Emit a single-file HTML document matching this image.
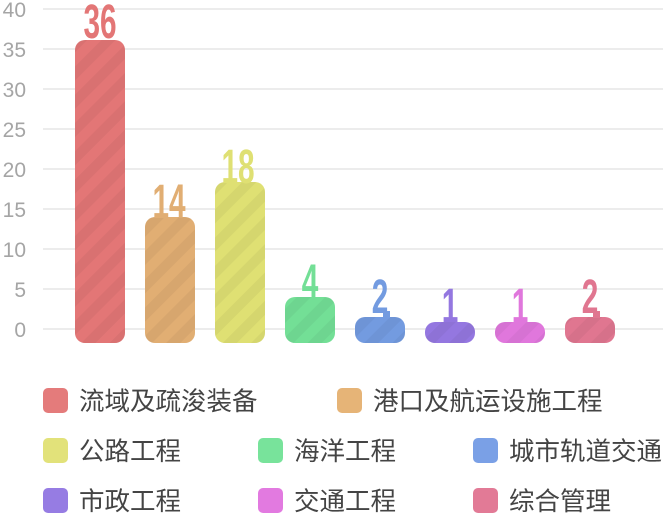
<!DOCTYPE html>
<html><head><meta charset="utf-8"><style>
html,body{margin:0;padding:0;background:#fff;}
body{width:663px;height:514px;overflow:hidden;}
svg{display:block;}
</style></head><body>
<svg width="663" height="514" viewBox="0 0 663 514" xmlns="http://www.w3.org/2000/svg">
<defs>
<pattern id="st" patternUnits="userSpaceOnUse" width="20" height="20" patternTransform="rotate(45)">
<rect x="0" y="0" width="10" height="20" fill="#000" fill-opacity="0.045"/>
</pattern>
</defs>
<g stroke="#ececec" stroke-width="2">
<line x1="43" y1="9" x2="663" y2="9"/>
<line x1="43" y1="49" x2="663" y2="49"/>
<line x1="43" y1="89" x2="663" y2="89"/>
<line x1="43" y1="129" x2="663" y2="129"/>
<line x1="43" y1="169" x2="663" y2="169"/>
<line x1="43" y1="209" x2="663" y2="209"/>
<line x1="43" y1="249" x2="663" y2="249"/>
<line x1="43" y1="289" x2="663" y2="289"/>
<line x1="43" y1="329" x2="663" y2="329"/>
</g>
<g font-family="Liberation Sans, sans-serif" font-size="21" fill="#a5a5a5" text-anchor="end">
<text x="26" y="17">40</text>
<text x="26" y="57">35</text>
<text x="26" y="97">30</text>
<text x="26" y="137">25</text>
<text x="26" y="177">20</text>
<text x="26" y="217">15</text>
<text x="26" y="257">10</text>
<text x="26" y="297">5</text>
<text x="26" y="337">0</text>
</g>
<!-- bars -->
<rect x="75" y="40" width="50" height="303" rx="10" fill="#e37676"/>
<rect x="75" y="40" width="50" height="303" rx="10" fill="url(#st)"/>
<rect x="145" y="217" width="50" height="126" rx="10" fill="#e1ae73"/>
<rect x="145" y="217" width="50" height="126" rx="10" fill="url(#st)"/>
<rect x="215" y="182" width="50" height="161" rx="10" fill="#dfe073"/>
<rect x="215" y="182" width="50" height="161" rx="10" fill="url(#st)"/>
<rect x="285" y="297" width="50" height="46" rx="10" fill="#73df96"/>
<rect x="285" y="297" width="50" height="46" rx="10" fill="url(#st)"/>
<rect x="355" y="317" width="50" height="26" rx="10" fill="#739be0"/>
<rect x="355" y="317" width="50" height="26" rx="10" fill="url(#st)"/>
<rect x="425" y="322" width="50" height="21" rx="10" fill="#9477e0"/>
<rect x="425" y="322" width="50" height="21" rx="10" fill="url(#st)"/>
<rect x="495" y="322" width="50" height="21" rx="10" fill="#e077dc"/>
<rect x="495" y="322" width="50" height="21" rx="10" fill="url(#st)"/>
<rect x="565" y="317" width="50" height="26" rx="10" fill="#e07690"/>
<rect x="565" y="317" width="50" height="26" rx="10" fill="url(#st)"/>
<!-- connector tabs -->
<rect x="383" y="311" width="7" height="7" fill="#739be0"/>
<rect x="593" y="311" width="7" height="7" fill="#e07690"/>
<!-- value labels -->
<g font-family="Liberation Sans, sans-serif" font-size="48" font-weight="bold" text-anchor="middle">
<text transform="translate(100,38) scale(0.62,1)" fill="#e37676">36</text>
<text transform="translate(169,218) scale(0.62,1)" fill="#e1ae73">14</text>
<text transform="translate(238,183) scale(0.62,1)" fill="#dfe073">18</text>
<text transform="translate(310,298) scale(0.62,1)" fill="#73df96">4</text>
<text transform="translate(380,313) scale(0.62,1)" fill="#739be0">2</text>
<text transform="translate(450,322) scale(0.62,1)" fill="#9477e0">1</text>
<text transform="translate(520,322) scale(0.62,1)" fill="#e077dc">1</text>
<text transform="translate(590,313) scale(0.62,1)" fill="#e07690">2</text>
</g>
<!-- legend -->
<g>
<rect x="43" y="388" width="25" height="25" rx="5" fill="#e47b7b"/>
<rect x="337" y="388" width="25" height="25" rx="5" fill="#e6b477"/>
<rect x="43" y="438" width="25" height="25" rx="5" fill="#e2e27a"/>
<rect x="258" y="438" width="25" height="25" rx="5" fill="#78e39b"/>
<rect x="473" y="438" width="25" height="25" rx="5" fill="#7aa0e6"/>
<rect x="43" y="488" width="25" height="25" rx="5" fill="#967ce3"/>
<rect x="258" y="488" width="25" height="25" rx="5" fill="#e27ae0"/>
<rect x="473" y="488" width="25" height="25" rx="5" fill="#e27a96"/>
</g>
<g font-family="Liberation Sans, 'Noto Sans CJK SC', sans-serif" font-size="25.5" fill="#444">
<text x="79" y="410">流域及疏浚装备</text>
<text x="373" y="410">港口及航运设施工程</text>
<text x="79" y="460">公路工程</text>
<text x="294" y="460">海洋工程</text>
<text x="509" y="460">城市轨道交通</text>
<text x="79" y="510">市政工程</text>
<text x="294" y="510">交通工程</text>
<text x="509" y="510">综合管理</text>
</g>
</svg>
</body></html>
